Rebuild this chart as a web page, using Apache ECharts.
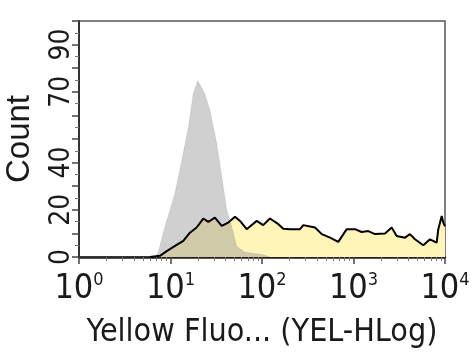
<!DOCTYPE html>
<html>
<head>
<meta charset="utf-8">
<script src="https://cdn.jsdelivr.net/npm/echarts@6/dist/echarts.min.js"></script>
<style>
html,body{margin:0;padding:0;background:#fff;}
#chart{width:474px;height:360px;}
</style>
</head>
<body>
<div id="chart"></div>
<script>
// ---- data ----
const xDecades = [1, 10, 100, 1000, 10000];
const xMinorTicks = [2,3,4,5,6,7,8,9,20,30,40,50,60,70,80,90,200,300,400,500,600,700,800,900,2000,3000,4000,5000,6000,7000,8000,9000];
const yLabelValues = [0, 20, 40, 70, 90];

// stained sample (yellow, black outline)
const yellowX = [5.97, 7.68, 9.09, 11.2, 13.8, 16.3, 19.3, 22.8, 25.9, 30.6, 36.3, 42.8, 50.7, 57.5, 68.0, 87.5, 103, 122, 151, 171, 202, 260, 283, 380, 450, 554, 682, 843, 1038, 1229, 1452, 1718, 2209, 2614, 2964, 3653, 4143, 4697, 5795, 6856, 8110, 8450, 9206, 9576, 10000];
const yellowCount = [0, 0.5, 2.5, 4.7, 6.8, 10.3, 12.5, 16.3, 14.9, 16.7, 13.2, 14.6, 17.1, 15.3, 11.8, 15.3, 13.5, 16.3, 13.9, 12, 11.8, 11.8, 13.5, 12.5, 9.7, 8.2, 6.4, 11.8, 11.8, 10.6, 11, 9.7, 10, 12.5, 8.9, 8.2, 9.7, 7.5, 5, 7.5, 6.1, 11.8, 17.4, 14.6, 13];

// control (gray)
const grayX = [6.5, 7.3, 8.71, 11.2, 13.3, 15.7, 17.7, 19.8, 21, 23.8, 27, 32, 36.3, 41.1, 46.6, 52.9, 65.2, 102.6, 122];
const grayCount = [0, 1.6, 12.8, 27, 41, 55, 69, 74.7, 73, 69, 62, 48, 34, 20, 12.8, 4.4, 2, 1, 0];

const yellowData = yellowX.map((x, i) => [x, yellowCount[i]]);
const grayData = grayX.map((x, i) => [x, grayCount[i]]);

const NARROW = "'Liberation Sans Narrow', 'DejaVu Sans Condensed', 'Liberation Sans', sans-serif";
const txt = '#1a1a1a';

const chart = echarts.init(document.getElementById('chart'), null, {renderer: 'canvas'});
chart.setOption({
  animation: false,
  grid: {
    left: 79, top: 21, right: 29, bottom: 103,
    show: true, borderColor: '#555', borderWidth: 1.5, backgroundColor: 'transparent',
    outerBoundsMode: 'none'
  },
  xAxis: [
    {
      type: 'log', logBase: 10, min: 1, max: 10000, position: 'bottom',
      name: 'Yellow Fluo... (YEL-HLog)', nameLocation: 'middle', nameGap: 60,
      nameTextStyle: {fontFamily: NARROW, fontSize: 32, color: txt},
      axisLine: {show: true, onZero: false, lineStyle: {color: '#222', width: 2.5}},
      axisTick: {show: true, length: 7, customValues: xDecades, lineStyle: {color: '#444', width: 1.5}},
      minorTick: {show: false},
      splitLine: {show: false},
      axisLabel: {
        show: true, margin: 14, customValues: xDecades,
        showMinLabel: true, showMaxLabel: true, hideOverlap: false,
        formatter: function (v) { return '{b|10}{s|' + Math.round(Math.log10(v)) + '}'; },
        rich: {
          b: {fontFamily: NARROW, fontSize: 34, color: txt, lineHeight: 36},
          s: {fontFamily: NARROW, fontSize: 18, color: txt, verticalAlign: 'top', lineHeight: 18}
        }
      }
    },
    {
      type: 'log', logBase: 10, min: 1, max: 10000, position: 'bottom', offset: 0,
      axisLine: {show: false, onZero: false},
      axisTick: {show: true, length: 4, customValues: xMinorTicks, lineStyle: {color: '#777', width: 1}},
      axisLabel: {show: false},
      splitLine: {show: false}
    }
  ],
  yAxis: {
    type: 'value', min: 0, max: 100, interval: 10,
    name: 'Count', nameLocation: 'middle', nameGap: 43, nameRotate: 90,
    nameTextStyle: {fontFamily: "'Liberation Sans', Arial, sans-serif", fontSize: 33, color: txt},
    axisLine: {show: true, lineStyle: {color: '#333', width: 2}},
    axisTick: {show: true, length: 7, lineStyle: {color: '#444', width: 1.5}},
    minorTick: {show: true, splitNumber: 2, length: 4, lineStyle: {color: '#777', width: 1}},
    splitLine: {show: false},
    axisLabel: {
      show: true, rotate: 90, margin: 3, fontFamily: NARROW, fontSize: 28, color: txt,
      showMinLabel: true, showMaxLabel: true, hideOverlap: false,
      formatter: function (v) { return yLabelValues.indexOf(v) >= 0 ? String(v) : ''; }
    }
  },
  series: [
    {
      type: 'line', name: 'sample', data: yellowData, xAxisIndex: 0,
      showSymbol: false, symbol: 'none', smooth: false,
      lineStyle: {color: '#000', width: 2},
      areaStyle: {color: '#fff5b8', opacity: 1},
      silent: true
    },
    {
      type: 'line', name: 'control', data: grayData, xAxisIndex: 0,
      showSymbol: false, symbol: 'none', smooth: false,
      lineStyle: {color: 'rgba(150,150,150,0.5)', width: 0.5},
      areaStyle: {color: 'rgba(150,150,150,0.45)', opacity: 1},
      silent: true
    }
  ]
});
</script>
</body>
</html>
